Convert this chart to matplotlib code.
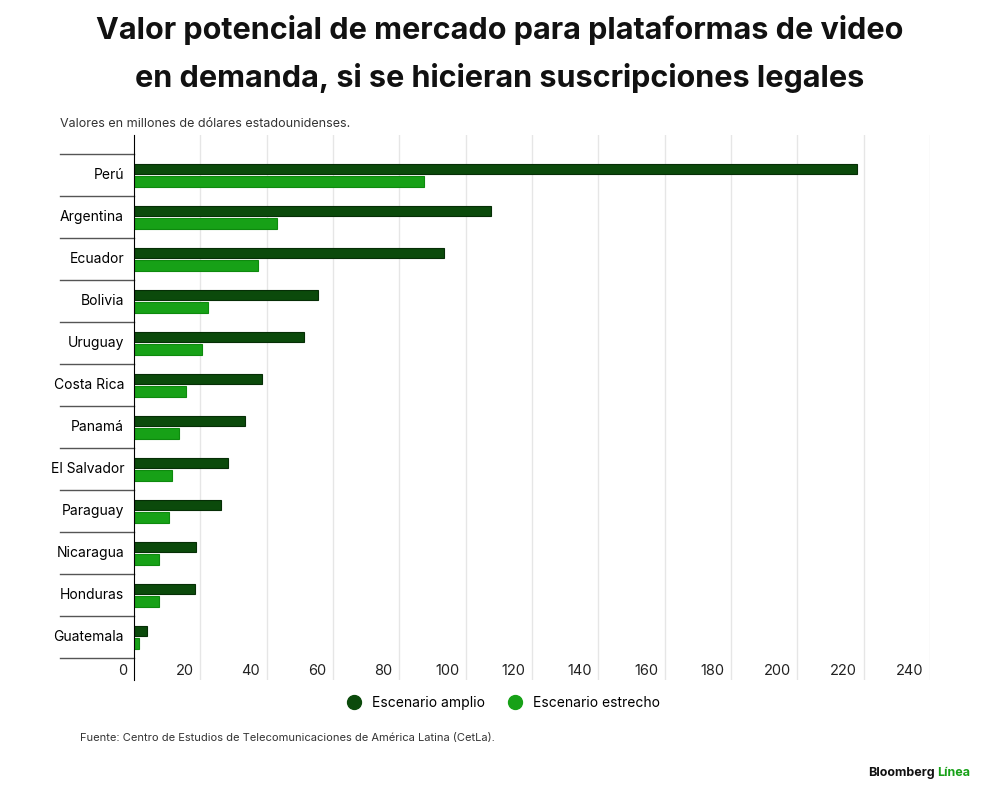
import matplotlib.pyplot as plt
import matplotlib.transforms as mtransforms

paises = ['Perú', 'Argentina', 'Ecuador', 'Bolivia', 'Uruguay', 'Costa Rica', 'Panamá',
          'El Salvador', 'Paraguay', 'Nicaragua', 'Honduras', 'Guatemala']
amplio = [218, 107.7, 93.5, 55.5, 51.3, 38.6, 33.5, 28.4, 26.2, 18.7, 18.4, 3.9]
estrecho = [87.5, 43, 37.4, 22.3, 20.5, 15.7, 13.6, 11.5, 10.6, 7.5, 7.5, 1.5]
ticks_x = list(range(0, 241, 20))

oscuro = '#0b4a0b'
claro = '#17a117'

plt.rcParams['font.family'] = ['Inter', 'DejaVu Sans']

fig = plt.figure(figsize=(10, 8), dpi=100)
ax = fig.add_axes([0.134, 0.15, 0.796, 0.681])

y = list(range(len(paises)))
ax.barh([i - 0.15 for i in y], amplio, height=0.25, color=oscuro, edgecolor='#062e06', linewidth=0.8)
ax.barh([i + 0.15 for i in y], estrecho, height=0.25, color=claro, edgecolor='#0e8a0e', linewidth=0.8)

ax.set_xlim(0, 240)
ax.set_ylim(11 + 1.02, -0.95)
for t in ticks_x[1:]:
    ax.axvline(t, color='#e6e6e6', lw=1, zorder=0)
for s in ['top', 'right', 'bottom']:
    ax.spines[s].set_visible(False)
ax.spines['left'].set_color('black')
ax.set_xticks([])
ax.set_yticks([])

# etiquetas de pais y separadores
tr = mtransforms.blended_transform_factory(fig.transFigure, ax.transData)
for i, p in enumerate(paises):
    ax.text(-3, i, p, ha='right', va='center', fontsize=10)
for i in range(len(paises) + 1):
    ax.plot([0.06, 0.134], [i - 0.5, i - 0.5], transform=tr, color='#555555', lw=1, clip_on=False)

# etiquetas del eje x
for t in ticks_x:
    ax.text(t - 2, 11.8, str(t), ha='right', va='center', fontsize=10.5, color='#222222')

fig.text(0.5, 0.963, 'Valor potencial de mercado para plataformas de video', ha='center', va='center',
         fontsize=22, fontweight='bold', color='#111111')
fig.text(0.5, 0.903, 'en demanda, si se hicieran suscripciones legales', ha='center', va='center',
         fontsize=22, fontweight='bold', color='#111111')
fig.text(0.06, 0.845, 'Valores en millones de dólares estadounidenses.', ha='left', va='center',
         fontsize=9, color='#333333')

h1 = plt.Line2D([], [], marker='o', ls='', color=oscuro, markersize=10)
h2 = plt.Line2D([], [], marker='o', ls='', color=claro, markersize=10)
fig.legend([h1, h2], ['Escenario amplio', 'Escenario estrecho'], loc='center', bbox_to_anchor=(0.5, 0.121),
           ncol=2, frameon=False, fontsize=10, handletextpad=0.3, columnspacing=1.2)

fig.text(0.08, 0.078, 'Fuente: Centro de Estudios de Telecomunicaciones de América Latina (CetLa).',
         ha='left', va='center', fontsize=8, color='#333333')
fig.text(0.935, 0.034, 'Bloomberg', ha='right', va='center', fontsize=9, fontweight='bold', color='#111111')
fig.text(0.937, 0.034, 'Línea', ha='left', va='center', fontsize=9, fontweight='bold', color=claro)

fig.savefig('out.png')
